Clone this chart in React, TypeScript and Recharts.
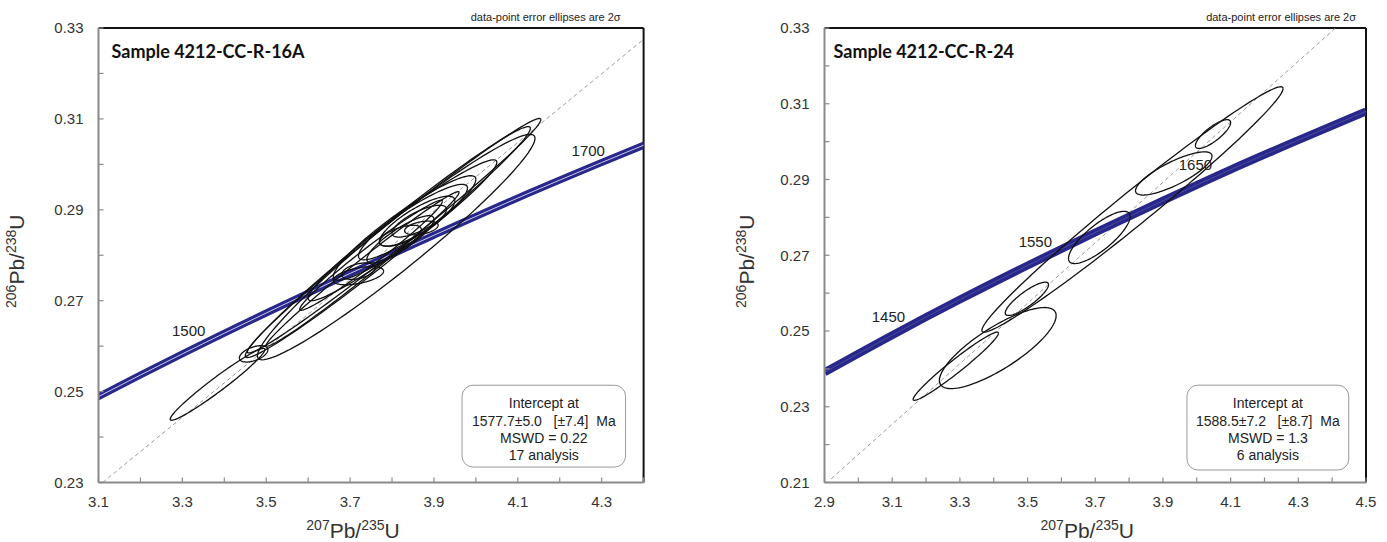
import React from 'react';
import {
  ComposedChart,
  Line,
  XAxis,
  YAxis,
  ReferenceLine,
  ReferenceArea,
  ReferenceDot,
} from 'recharts';

const FONT = '"Liberation Sans", Arial, sans-serif';

// concordia curve (207Pb/235U, 206Pb/238U)
const concordiaX = [2.9, 3.1, 3.3, 3.5, 3.7, 3.9, 4.1, 4.3, 4.5];
const concordiaY = [0.2391, 0.2489, 0.2583, 0.2673, 0.276, 0.2844, 0.2926, 0.3004, 0.308];

// ---- sample 4212-CC-R-16A ----
const leftXTicks = [3.1, 3.2, 3.3, 3.4, 3.5, 3.6, 3.7, 3.8, 3.9, 4.0, 4.1, 4.2, 4.3, 4.4];
const leftXLabels = [3.1, 3.3, 3.5, 3.7, 3.9, 4.1, 4.3];
const leftYTicks = [0.23, 0.24, 0.25, 0.26, 0.27, 0.28, 0.29, 0.3, 0.31, 0.32, 0.33];
const leftYLabels = [0.23, 0.25, 0.27, 0.29, 0.31, 0.33];
const leftDiscordiaX = [3.11, 4.4];
const leftDiscordiaY = [0.23, 0.3275];
const leftAges = ['1500', '1700'];
const leftAgeX = [3.315, 4.268];
const leftAgeY = [0.2633, 0.3031];
// error ellipses: centre, half widths, correlation
const leftCx = [3.384, 3.47, 3.805, 3.79, 3.81, 3.825, 3.83, 3.85, 3.86, 3.865, 3.82, 3.72, 3.72, 3.82, 3.75, 3.87, 3.73];
const leftCy = [0.2516, 0.2583, 0.2843, 0.2829, 0.2818, 0.2855, 0.286, 0.2873, 0.2875, 0.2875, 0.2843, 0.2755, 0.2765, 0.2835, 0.28, 0.286, 0.277];
const leftSx = [0.113, 0.034, 0.35, 0.34, 0.331, 0.225, 0.17, 0.13, 0.09, 0.065, 0.05, 0.06, 0.04, 0.08, 0.17, 0.04, 0.23];
const leftSy = [0.0079, 0.0018, 0.0258, 0.0254, 0.0248, 0.0155, 0.0115, 0.0083, 0.0055, 0.0035, 0.0023, 0.002, 0.0018, 0.0052, 0.0121, 0.0015, 0.017];
const leftRho = [0.97, 0.5, 0.99, 0.985, 0.965, 0.965, 0.93, 0.9, 0.82, 0.75, 0.6, 0.5, 0.4, 0.85, 0.98, 0.4, 0.99];
const leftBox = ['Intercept at', '1577.7\u00b15.0   [\u00b17.4]  Ma', 'MSWD = 0.22', '17 analysis'];

// ---- sample 4212-CC-R-24 ----
const rightXTicks = [2.9, 3.0, 3.1, 3.2, 3.3, 3.4, 3.5, 3.6, 3.7, 3.8, 3.9, 4.0, 4.1, 4.2, 4.3, 4.4, 4.5];
const rightXLabels = [2.9, 3.1, 3.3, 3.5, 3.7, 3.9, 4.1, 4.3, 4.5];
const rightYTicks = [0.21, 0.22, 0.23, 0.24, 0.25, 0.26, 0.27, 0.28, 0.29, 0.3, 0.31, 0.32, 0.33];
const rightYLabels = [0.21, 0.23, 0.25, 0.27, 0.29, 0.31, 0.33];
const rightDiscordiaX = [2.92, 4.41];
const rightDiscordiaY = [0.211, 0.33];
const rightAges = ['1450', '1550', '1650'];
const rightAgeX = [3.089, 3.523, 3.996];
const rightAgeY = [0.2539, 0.2737, 0.2938];
const rightCx = [3.288, 3.412, 3.498, 3.81, 3.712, 3.932, 4.048];
const rightCy = [0.2407, 0.2455, 0.2585, 0.2821, 0.2747, 0.2916, 0.302];
const rightSx = [0.126, 0.1725, 0.064, 0.445, 0.091, 0.113, 0.052];
const rightSy = [0.009, 0.0107, 0.0044, 0.0324, 0.0069, 0.0057, 0.0038];
const rightRho = [0.97, 0.8, 0.85, 0.985, 0.8, 0.8, 0.8];
const rightBox = ['Intercept at', '1588.5\u00b17.2   [\u00b18.7]  Ma', 'MSWD = 1.3', '6 analysis'];

type Pt = { x: number; y: number };

const toPoints = (xs: number[], ys: number[]): Pt[] => xs.map((x, i) => ({ x, y: ys[i] }));

// outline of an error ellipse from its centre, half widths and correlation
const ellipseOutline = (cx: number, cy: number, sx: number, sy: number, rho: number): Pt[] => {
  const k = Math.sqrt(1 - rho * rho);
  const pts: Pt[] = [];
  for (let i = 0; i <= 120; i++) {
    const t = (i / 120) * Math.PI * 2;
    pts.push({ x: cx + sx * Math.cos(t), y: cy + sy * (rho * Math.cos(t) + k * Math.sin(t)) });
  }
  return pts;
};

const has = (list: number[], v: number) => list.some((l) => Math.abs(l - v) < 1e-6);

const YTick = (props: any) => {
  const { x, y, payload, labels } = props;
  return (
    <g>
      <line x1={x + 15} x2={x + 20} y1={y} y2={y} stroke="#8a8a8a" strokeWidth={1.2} />
      {has(labels, payload.value) && (
        <text x={x} y={y} dy="0.36em" textAnchor="end" fontSize={15} fill="#333" fontFamily={FONT}>
          {payload.value.toFixed(2)}
        </text>
      )}
    </g>
  );
};

const XTick = (props: any) => {
  const { x, y, payload, labels } = props;
  return (
    <g>
      <line x1={x} x2={x} y1={y - 14} y2={y - 19} stroke="#8a8a8a" strokeWidth={1.2} />
      {has(labels, payload.value) && (
        <text x={x} y={y + 10} textAnchor="middle" fontSize={15} fill="#333" fontFamily={FONT}>
          {payload.value.toFixed(1)}
        </text>
      )}
    </g>
  );
};

const XTitle = (props: any) => {
  const { viewBox, dx } = props;
  const cx = viewBox.x + viewBox.width / 2 + dx;
  return (
    <text x={cx} y={viewBox.y + 55} textAnchor="middle" fill="#333" fontFamily={FONT} fontSize={21}>
      <tspan fontSize={14} dy={-8}>207</tspan>
      <tspan dy={8}>Pb/</tspan>
      <tspan fontSize={14} dy={-8}>235</tspan>
      <tspan dy={8}>U</tspan>
    </text>
  );
};

const YTitle = (props: any) => {
  const { viewBox, dx } = props;
  const cx = viewBox.x + viewBox.width + dx;
  const cy = viewBox.y + viewBox.height / 2 + 6;
  return (
    <text
      x={cx}
      y={cy}
      transform={`rotate(-90, ${cx}, ${cy})`}
      dy={7}
      textAnchor="middle"
      fill="#333"
      fontFamily={FONT}
      fontSize={21}
    >
      <tspan fontSize={14} dy={-8}>206</tspan>
      <tspan dy={8}>Pb/</tspan>
      <tspan fontSize={14} dy={-8}>238</tspan>
      <tspan dy={8}>U</tspan>
    </text>
  );
};

const TopTexts = (props: any) => {
  const { viewBox, title, titleDx, noteDx } = props;
  return (
    <g>
      <text
        x={viewBox.x + titleDx}
        y={viewBox.y + 30}
        fontFamily='Lato, "Open Sans", sans-serif'
        fontWeight={700}
        fontSize={18}
        fill="#111"
      >
        {title}
      </text>
      <text
        x={viewBox.x + viewBox.width - noteDx}
        y={viewBox.y - 7}
        textAnchor="end"
        fontFamily={FONT}
        fontSize={11}
        fill="#222"
      >
        data-point error ellipses are 2{'\u03c3'}
      </text>
    </g>
  );
};

const InfoBox = (props: any) => {
  const { x, y, width, height, lines } = props;
  const cx = x + width / 2;
  return (
    <g>
      <rect x={x} y={y} width={width} height={height} rx={11} ry={11} fill="#fff" stroke="#9a9a9a" strokeWidth={1} />
      {lines.map((t: string, i: number) => (
        <text
          key={i}
          x={cx}
          y={y + 18 + i * 17.3}
          dy="0.36em"
          textAnchor="middle"
          fontFamily={FONT}
          fontSize={14}
          fill="#222"
          style={{ whiteSpace: 'pre' }}
        >
          {t}
        </text>
      ))}
    </g>
  );
};

interface PanelProps {
  width: number;
  marginLeft: number;
  marginRight: number;
  xDomain: [number, number];
  yDomain: [number, number];
  xTicks: number[];
  xLabels: number[];
  yTicks: number[];
  yLabels: number[];
  discordia: Pt[];
  ellipses: Pt[][];
  ages: string[];
  ageX: number[];
  ageY: number[];
  box: string[];
  boxArea: [number, number, number, number];
  title: string;
  titleDx: number;
  noteDx: number;
  xTitleDx: number;
  yTitleDx: number;
  bandWidth: number;
  bandCore: string;
}

const Panel = (p: PanelProps) => {
  const concordia = toPoints(concordiaX, concordiaY);
  return (
    <ComposedChart
      width={p.width}
      height={542}
      margin={{ top: 28, right: p.marginRight, bottom: 29.5, left: p.marginLeft }}
    >
      <XAxis
        type="number"
        dataKey="x"
        domain={p.xDomain}
        ticks={p.xTicks}
        interval={0}
        allowDataOverflow
        height={30}
        tickSize={0}
        tickMargin={14}
        tickLine={false}
        axisLine={{ stroke: '#8a8a8a', strokeWidth: 2 }}
        tick={<XTick labels={p.xLabels} />}
        label={<XTitle dx={p.xTitleDx} />}
      />
      <YAxis
        type="number"
        dataKey="y"
        domain={p.yDomain}
        ticks={p.yTicks}
        interval={0}
        allowDataOverflow
        width={60}
        tickSize={0}
        tickMargin={15}
        tickLine={false}
        axisLine={{ stroke: '#8a8a8a', strokeWidth: 2 }}
        tick={<YTick labels={p.yLabels} />}
        label={<YTitle dx={p.yTitleDx} />}
      />
      <ReferenceLine
        y={p.yDomain[1]}
        stroke="#111"
        strokeWidth={2}
        label={<TopTexts title={p.title} titleDx={p.titleDx} noteDx={p.noteDx} />}
      />
      <ReferenceLine x={p.xDomain[1]} stroke="#111" strokeWidth={2} />
      <Line
        data={p.discordia}
        dataKey="y"
        type="linear"
        stroke="#9a9a9a"
        strokeWidth={1}
        strokeDasharray="4 3"
        dot={false}
        activeDot={false}
        isAnimationActive={false}
      />
      <Line
        data={concordia}
        dataKey="y"
        type="monotone"
        stroke="#28288a"
        strokeWidth={p.bandWidth}
        dot={false}
        activeDot={false}
        isAnimationActive={false}
      />
      <Line
        data={concordia}
        dataKey="y"
        type="monotone"
        stroke={p.bandCore}
        strokeWidth={1}
        dot={false}
        activeDot={false}
        isAnimationActive={false}
      />
      {p.ellipses.map((pts, i) => (
        <Line
          key={i}
          data={pts}
          dataKey="y"
          type="linear"
          stroke="#111"
          strokeWidth={1.3}
          fill="none"
          dot={false}
          activeDot={false}
          isAnimationActive={false}
        />
      ))}
      {p.ages.map((a, i) => (
        <ReferenceDot
          key={a}
          x={p.ageX[i]}
          y={p.ageY[i]}
          r={0}
          fill="none"
          stroke="none"
          label={{ value: a, position: 'center', fontSize: 15, fill: '#222', fontFamily: FONT }}
        />
      ))}
      <ReferenceArea
        x1={p.boxArea[0]}
        x2={p.boxArea[1]}
        y1={p.boxArea[2]}
        y2={p.boxArea[3]}
        shape={(s: any) => <InfoBox {...s} lines={p.box} />}
      />
    </ComposedChart>
  );
};

export default function App() {
  const leftEllipses = leftCx.map((cx, i) => ellipseOutline(cx, leftCy[i], leftSx[i], leftSy[i], leftRho[i]));
  const rightEllipses = rightCx.map((cx, i) => ellipseOutline(cx, rightCy[i], rightSx[i], rightSy[i], rightRho[i]));
  return (
    <div style={{ position: 'absolute', left: 0, top: 0, width: 1387, height: 542, background: '#fff' }}>
      <div style={{ position: 'absolute', left: 0, top: 0 }}>
        <Panel
          width={700}
          marginLeft={38.5}
          marginRight={56.4}
          xDomain={[3.1, 4.4]}
          yDomain={[0.23, 0.33]}
          xTicks={leftXTicks}
          xLabels={leftXLabels}
          yTicks={leftYTicks}
          yLabels={leftYLabels}
          discordia={toPoints(leftDiscordiaX, leftDiscordiaY)}
          ellipses={leftEllipses}
          ages={leftAges}
          ageX={leftAgeX}
          ageY={leftAgeY}
          box={leftBox}
          boxArea={[3.967, 4.357, 0.2334, 0.2514]}
          title="Sample 4212-CC-R-16A"
          titleDx={13}
          noteDx={23}
          xTitleDx={-18}
          yTitleDx={-75}
          bandWidth={7}
          bandCore="#c9c9ee"
        />
      </div>
      <div style={{ position: 'absolute', left: 700, top: 0 }}>
        <Panel
          width={687}
          marginLeft={64.5}
          marginRight={21}
          xDomain={[2.9, 4.5]}
          yDomain={[0.21, 0.33]}
          xTicks={rightXTicks}
          xLabels={rightXLabels}
          yTicks={rightYTicks}
          yLabels={rightYLabels}
          discordia={toPoints(rightDiscordiaX, rightDiscordiaY)}
          ellipses={rightEllipses}
          ages={rightAges}
          ageX={rightAgeX}
          ageY={rightAgeY}
          box={rightBox}
          boxArea={[3.971, 4.449, 0.2133, 0.2357]}
          title="Sample 4212-CC-R-24"
          titleDx={9}
          noteDx={10}
          xTitleDx={-8}
          yTitleDx={-71}
          bandWidth={8}
          bandCore="#4a4aa0"
        />
      </div>
    </div>
  );
}
